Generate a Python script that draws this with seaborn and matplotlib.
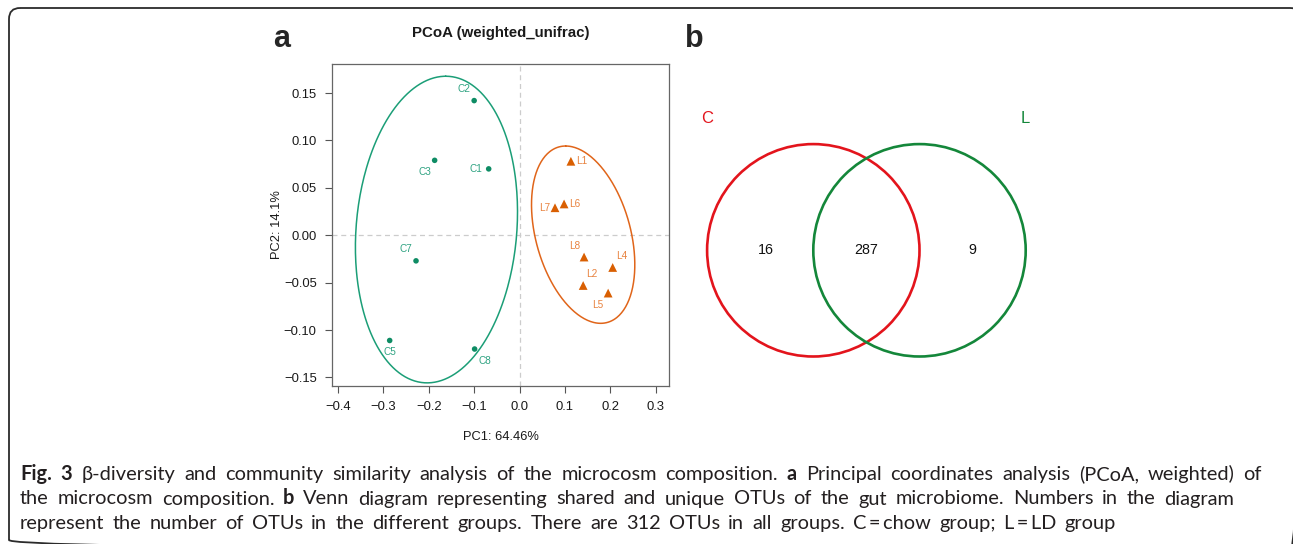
import numpy as np
import pandas as pd
import matplotlib
matplotlib.use("Agg")
import matplotlib.pyplot as plt
from matplotlib.patches import Circle, FancyBboxPatch
import seaborn as sns

# ---------------- data ----------------
sample_ids = ["C1", "C2", "C3", "C5", "C7", "C8",
              "L1", "L2", "L4", "L5", "L6", "L7", "L8"]
groups = ["C"] * 6 + ["L"] * 7
pc1 = [-0.068, -0.100, -0.187, -0.286, -0.228, -0.099,
       0.113, 0.140, 0.205, 0.195, 0.098, 0.078, 0.142]
pc2 = [0.070, 0.142, 0.079, -0.111, -0.027, -0.120,
       0.078, -0.053, -0.034, -0.061, 0.033, 0.029, -0.023]

# confidence ellipses: centre, conjugate half-axis (top point offset), horizontal half-chord
ell_groups = ["C", "L"]
ell_center_x = [-0.183, 0.140]
ell_center_y = [0.006, 0.0006]
ell_top_dx = [0.0205, -0.0385]
ell_top_dy = [0.1617, 0.0935]
ell_half_chord = [0.1773, 0.107]

x_ticks = [-0.4, -0.3, -0.2, -0.1, 0.0, 0.1, 0.2, 0.3]
y_ticks = [-0.15, -0.10, -0.05, 0.00, 0.05, 0.10, 0.15]
x_label = "PC1: 64.46%"
y_label = "PC2: 14.1%"
title = "PCoA (weighted_unifrac)"

venn_sets = ["C", "L"]
venn_counts = [16, 287, 9]   # C only, shared, L only

caption_lines = [
    [("Fig.", True), ("3", True), ("β-diversity", False), ("and", False), ("community", False),
     ("similarity", False), ("analysis", False), ("of", False), ("the", False), ("microcosm", False),
     ("composition.", False), ("a", True), ("Principal", False), ("coordinates", False),
     ("analysis", False), ("(PCoA,", False), ("weighted)", False), ("of", False)],
    [("the", False), ("microcosm", False), ("composition.", False), ("b", True), ("Venn", False),
     ("diagram", False), ("representing", False), ("shared", False), ("and", False), ("unique", False),
     ("OTUs", False), ("of", False), ("the", False), ("gut", False), ("microbiome.", False),
     ("Numbers", False), ("in", False), ("the", False), ("diagram", False)],
    [("represent", False), ("the", False), ("number", False), ("of", False), ("OTUs", False), ("in", False),
     ("the", False), ("different", False), ("groups.", False), ("There", False), ("are", False),
     ("312", False), ("OTUs", False), ("in", False), ("all", False), ("groups.", False),
     ("C\u2009=\u2009chow", False), ("group;", False), ("L\u2009=\u2009LD", False), ("group", False)],
]

df = pd.DataFrame({"id": sample_ids, "group": groups, "PC1": pc1, "PC2": pc2})

# ---------------- styling ----------------
sns.set_style("white")
plt.rcParams["font.family"] = ["Liberation Sans", "DejaVu Sans"]
W, H = 1293, 544
fig = plt.figure(figsize=(W / 100, H / 100), dpi=100)

pt_col = {"C": "#0E8C64", "L": "#D95F02"}
ell_col = {"C": "#1B9E77", "L": "#E0651A"}
lab_col = {"C": "#2FA382", "L": "#E8823F"}

# background axes in pixel coordinates
bg = fig.add_axes([0, 0, 1, 1], zorder=0)
bg.set_xlim(0, W)
bg.set_ylim(H, 0)
bg.axis("off")
frame = FancyBboxPatch((9, 8), 1292, 543, boxstyle="round,pad=0,rounding_size=11",
                       fc="none", ec="#2b2b2b", lw=1.3, clip_on=False)
bg.add_patch(frame)
bg.text(282, 47, "a", fontsize=22, fontweight="bold", ha="center", va="baseline")
bg.text(694, 47, "b", fontsize=22, fontweight="bold", ha="center", va="baseline")

# ---------------- panel a: PCoA ----------------
L_, R_, T_, B_ = 332, 669, 64, 386
ax = fig.add_axes([L_ / W, 1 - B_ / H, (R_ - L_) / W, (B_ - T_) / H], zorder=2)
ax.set_facecolor("white")
ax.axhline(0, color="#cccccc", ls=(0, (4, 3)), lw=0.9, zorder=0)
ax.axvline(0, color="#cccccc", ls=(0, (4, 3)), lw=0.9, zorder=0)

t = np.linspace(0, 2 * np.pi, 300)
for g, cx, cy, ux, uy, h in zip(ell_groups, ell_center_x, ell_center_y, ell_top_dx, ell_top_dy, ell_half_chord):
    ax.plot(cx + ux * np.cos(t) + h * np.sin(t), cy + uy * np.cos(t),
            color=ell_col[g], lw=1.1, zorder=1)

sns.scatterplot(data=df, x="PC1", y="PC2", hue="group", style="group", size="group",
                markers={"C": "o", "L": "^"}, palette=pt_col, sizes={"C": 16, "L": 40},
                edgecolor="none", linewidth=0, legend=False, ax=ax, zorder=3)

# label offsets (pixels) and alignment
offs = {"C1": (-6, 0, "right", "center"), "C2": (-10, 12, "center", "center"),
        "C3": (-10, -12, "center", "center"), "C5": (0, -12, "center", "center"),
        "C7": (-10, 12, "center", "center"), "C8": (10, -12, "center", "center"),
        "L1": (5, 0, "left", "center"), "L6": (5, 0, "left", "center"),
        "L7": (-5, 0, "right", "center"), "L8": (-9, 11, "center", "center"),
        "L4": (9, 11, "center", "center"), "L2": (9, 11, "center", "center"),
        "L5": (-10, -12, "center", "center")}
for sid, g, x, y in zip(sample_ids, groups, pc1, pc2):
    dx, dy, ha, va = offs[sid]
    ax.annotate(sid, (x, y), xytext=(dx * 0.72, dy * 0.72), textcoords="offset points",
                ha=ha, va=va, fontsize=7.2, color=lab_col[g])

ax.set_xlim(-0.413, 0.329)
ax.set_ylim(-0.159, 0.1806)
ax.set_xticks(x_ticks)
ax.set_xticklabels([f"{v:.1f}".replace("-", "\u2212") for v in x_ticks])
ax.set_yticks(y_ticks)
ax.set_yticklabels([f"{v:.2f}".replace("-", "\u2212") for v in y_ticks], rotation=0)
ax.tick_params(axis="both", direction="out", length=5, width=0.8, color="#555555",
               labelsize=9.4, labelcolor="#1a1a1a", pad=6, left=True, bottom=True)
for sp in ax.spines.values():
    sp.set_color("#666666")
    sp.set_linewidth(0.9)
ax.set_xlabel(x_label, fontsize=9.3, color="#1a1a1a")
ax.set_ylabel(y_label, fontsize=9.3, color="#1a1a1a")
ax.xaxis.set_label_coords(0.5, -0.14)
ax.yaxis.set_label_coords(-0.145, 0.5)
ax.text(0.5, 1.096, title, transform=ax.transAxes, ha="center", va="center",
        fontsize=10.8, fontweight="bold", color="#1a1a1a")

# ---------------- panel b: Venn ----------------
r_px = 106.2
cxp, cyp = 813.3, 250.3
vx0, vx1, vy0, vy1 = -1.2, 2.2, -1.2, 1.5
vax = fig.add_axes([(cxp + vx0 * r_px) / W, 1 - (cyp - vy0 * r_px) / H,
                    (vx1 - vx0) * r_px / W, (vy1 - vy0) * r_px / H], zorder=2)
vax.set_xlim(vx0, vx1)
vax.set_ylim(vy0, vy1)
vax.axis("off")
venn_col = {"C": "#E3141C", "L": "#14873A"}
for i, s in enumerate(venn_sets):
    vax.add_patch(Circle((i * 1.0, 0), 1.0, fc="none", ec=venn_col[s], lw=1.9))
vax.text(-1.0, 1.24, venn_sets[0], color=venn_col["C"], fontsize=12, ha="center", va="center")
vax.text(2.0, 1.24, venn_sets[1], color=venn_col["L"], fontsize=12, ha="center", va="center")
for xpos, n in zip([-0.45, 0.5, 1.495], venn_counts):
    vax.text(xpos, 0, str(n), fontsize=10.3, ha="center", va="center", color="#111111")

# ---------------- caption ----------------
fig.canvas.draw()
renderer = fig.canvas.get_renderer()
cap_font = ["Lato", "DejaVu Sans"]
cap_size = 14.4
cap_col = "#231F20"
baselines = [480, 504.5, 529]
right_ends = [1262, 1234, None]
x_start = 20

def place_line(tokens, y, x_end):
    texts, widths = [], []
    for word, bold in tokens:
        tx = bg.text(0, y, word, fontsize=cap_size, fontweight="bold" if bold else "normal",
                     family=cap_font, color=cap_col, ha="left", va="baseline")
        texts.append(tx)
        widths.append(tx.get_window_extent(renderer).width)
    if x_end is None:
        gap = cap_size * 1.389 * 0.41
    else:
        gap = (x_end - x_start - sum(widths)) / (len(tokens) - 1)
    x = x_start
    for tx, w in zip(texts, widths):
        tx.set_x(x)
        x += w + gap

for toks, yb, xe in zip(caption_lines, baselines, right_ends):
    place_line(toks, yb, xe)

fig.savefig("out.png", dpi=100)
